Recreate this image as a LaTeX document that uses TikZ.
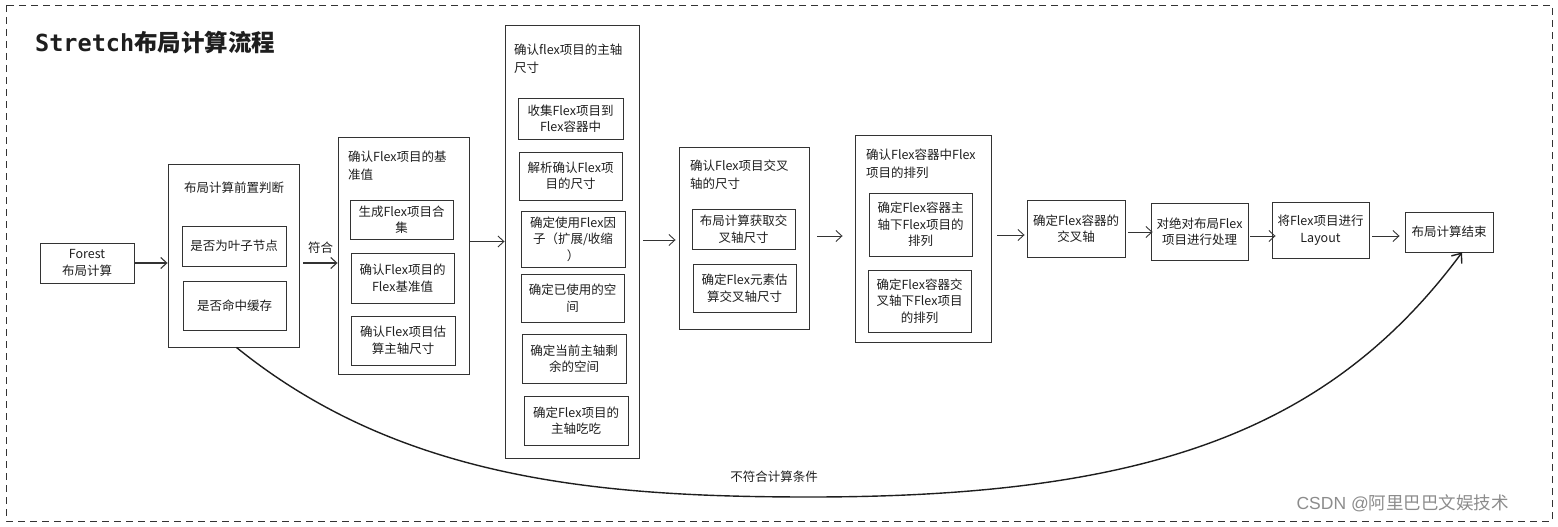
\documentclass[tikz,border=0pt]{standalone}
\usepackage{fontspec}
\setmainfont{Noto Sans CJK SC}
\newfontfamily\monofont{DejaVu Sans Mono}
\newfontfamily\arialf{Liberation Sans}
\usetikzlibrary{arrows.meta,calc}
\definecolor{ink}{HTML}{1E1E1E}
\definecolor{edge}{HTML}{333333}
\tikzset{
  sbox/.style={draw=edge, line width=0.9pt, inner sep=0pt, align=center, text=ink,
    font=\fontsize{12.5}{16.5}\selectfont},
  cont/.style={draw=edge, line width=0.9pt, inner sep=0pt},
  ttl/.style={anchor=north west, align=left, inner sep=0pt, text=ink,
    font=\fontsize{12.5}{17.5}\selectfont},
  lbl/.style={inner sep=0pt, text=ink, font=\fontsize{12.5}{16.5}\selectfont},
  arr/.style={draw=edge, line width=0.9pt, -{Straight Barb[length=6pt,width=11pt]}},
}
\newcommand\boxat[7]{\node[#6, minimum width={(#4-#2)*1pt}, minimum height={(#5-#3)*1pt}] (#1) at ({(#2+#4)/2},{(#3+#5)/2}) {#7};}
\begin{document}
\begin{tikzpicture}[x=1pt,y=-1pt]
\useasboundingbox (0,0) rectangle (1558,527);
\draw[edge, line width=0.8pt, dash pattern=on 7pt off 5pt] (6,5) rectangle (1552,521);

\node[anchor=west, inner sep=0pt, text=ink, font=\fontsize{23.5}{24}\selectfont] (title) at (35,42) {{\monofont\bfseries Stretch}{\bfseries 布局计算流程}};

% start
\boxat{forest}{40}{243}{134}{283}{sbox}{Forest\\布局计算}

% judge container
\boxat{judge}{168}{164}{299}{347}{cont}{}
\node[lbl] (judget) at (234,188) {布局计算前置判断};
\boxat{j1}{182}{226}{286}{266}{sbox}{是否为叶子节点}
\boxat{j2}{183}{281}{286}{330}{sbox}{是否命中缓存}

% base container
\boxat{base}{338}{137}{469}{374}{cont}{}
\node[ttl] (baset) at (348,151) {确认Flex项目的基\\准值};
\boxat{b1}{350}{200}{453}{239}{sbox}{生成Flex项目合\\集}
\boxat{b2}{351}{253}{454}{303}{sbox}{确认Flex项目的\\Flex基准值}
\boxat{b3}{351}{316}{455}{365}{sbox}{确认Flex项目估\\算主轴尺寸}

% main container
\boxat{main}{505}{25}{639}{458}{cont}{}
\node[ttl] (maint) at (514,44) {确认flex项目的主轴\\尺寸};
\boxat{m1}{518}{98}{623}{139}{sbox}{收集Flex项目到\\Flex容器中}
\boxat{m2}{519}{152}{622}{200}{sbox}{解析确认Flex项\\目的尺寸}
\boxat{m3}{521}{211}{625}{267}{sbox}{确定使用Flex因\\子（扩展/收缩\\）}
\boxat{m4}{521}{274}{624}{322}{sbox}{确定已使用的空\\间}
\boxat{m5}{522}{334}{626}{383}{sbox}{确定当前主轴剩\\余的空间}
\boxat{m6}{524}{396}{628}{445}{sbox}{确定Flex项目的\\主轴吃吃}

% cross container
\boxat{cross}{679}{147}{809}{329}{cont}{}
\node[ttl] (crosst) at (690,160) {确认Flex项目交叉\\轴的尺寸};
\boxat{c1}{692}{209}{795}{249}{sbox}{布局计算获取交\\叉轴尺寸}
\boxat{c2}{693}{264}{796}{312}{sbox}{确定Flex元素估\\算交叉轴尺寸}

% arrange container
\boxat{arrange}{855}{135}{991}{342}{cont}{}
\node[ttl] (arranget) at (866,149) {确认Flex容器中Flex\\项目的排列};
\boxat{a1}{869}{193}{972}{256}{sbox}{确定Flex容器主\\轴下Flex项目的\\排列}
\boxat{a2}{868}{270}{971}{332}{sbox}{确定Flex容器交\\叉轴下Flex项目\\的排列}

% simple steps
\boxat{cax}{1027}{200}{1125}{257}{sbox}{确定Flex容器的\\交叉轴}
\boxat{abs}{1151}{203}{1248}{260}{sbox}{对绝对布局Flex\\项目进行处理}
\boxat{layout}{1272}{202}{1369}{258}{sbox}{将Flex项目进行\\Layout}
\boxat{endb}{1405}{212}{1493}{252}{sbox}{布局计算结束}

% connectors
\draw[arr, line width=1.1pt] (forest.east) -- (forest.east -| judge.west);
\draw[arr, line width=1.1pt] ($(judge.east)+(4,7.5)$) -- ($(judge.east -| base.west)+(0,7.5)$)
  node[midway, above=9pt, lbl] (fuhe) {符合};
\draw[arr] (main.west -| base.east) -- (main.west);
\draw[arr] ($(main.east)+(4,-1.5)$) -- ($(main.east -| cross.west)+(-3,-1.5)$);
\draw[arr] ($(cross.east)+(8,-2)$) -- ($(cross.east -| arrange.west)+(-12,-2)$);
\draw[arr] ($(arrange.east)+(6,-3.5)$) -- ($(arrange.east -| cax.west)+(-2,-3.5)$);
\draw[arr] ($(cax.east)+(3,3.5)$) -- ($(cax.east -| abs.west)+(2,3.5)$);
\draw[arr] ($(abs.east)+(2,4.5)$) -- ($(abs.east -| layout.west)+(4,4.5)$);
\draw[arr] ($(layout.east)+(3,6)$) -- ($(layout.east -| endb.west)+(-5,6)$);

\coordinate (cmid) at (810,497);
\draw[draw=ink, line width=1.4pt, -{Straight Barb[length=8pt,width=13pt]}]
  ($(judge.south)+(3,0)$) .. controls (400,480) and (600,497) .. (cmid)
  .. controls (1150,497) and (1330,430) .. ($(endb.south)+(13,0)$);
\node[lbl] (nofit) at (774,477) {不符合计算条件};

\node[anchor=east, inner sep=0pt, text=black!45, font=\fontsize{17.5}{18}\selectfont] (wm) at (1509,503) {{\arialf CSDN @}阿里巴巴文娱技术};
\end{tikzpicture}
\end{document}
